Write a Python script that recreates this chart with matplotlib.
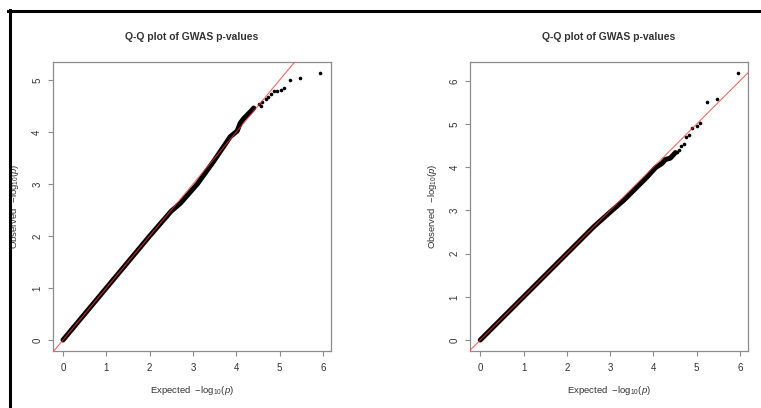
import numpy as np
import matplotlib
matplotlib.use('Agg')
from matplotlib import pyplot as plt
from matplotlib.lines import Line2D

plt.rcParams['font.family'] = ['Liberation Sans', 'DejaVu Sans']
plt.rcParams['mathtext.fontset'] = 'custom'
plt.rcParams['mathtext.rm'] = 'Liberation Sans'
plt.rcParams['mathtext.it'] = 'Liberation Sans:italic'

# left panel: dense body of the Q-Q cloud, then the sparse tail
body_exp_l = [0.0, 0.5, 1.0, 1.5, 2.0, 2.5, 2.71, 3.1, 3.48, 3.86, 4.02, 4.09, 4.17, 4.29, 4.36, 4.40]
body_obs_l = [0.0, 0.5, 1.0, 1.5, 2.0, 2.48, 2.63, 3.0, 3.44, 3.91, 4.02, 4.17, 4.26, 4.36, 4.42, 4.46]
tail_exp_l = [4.52, 4.56, 4.60, 4.68, 4.74, 4.80, 4.88, 4.94, 5.02, 5.10, 5.23, 5.46, 5.94]
tail_obs_l = [4.54, 4.50, 4.58, 4.64, 4.68, 4.73, 4.78, 4.79, 4.81, 4.84, 4.99, 5.03, 5.14]

# right panel
body_exp_r = [0.0, 0.5, 1.0, 1.5, 2.0, 2.62, 3.0, 3.32, 3.86, 4.05, 4.20, 4.28, 4.39, 4.51]
body_obs_r = [0.0, 0.5, 1.0, 1.5, 2.0, 2.62, 2.96, 3.24, 3.78, 3.99, 4.09, 4.18, 4.21, 4.34]
tail_exp_r = [4.55, 4.59, 4.63, 4.70, 4.76, 4.82, 4.90, 5.00, 5.09, 5.24, 5.46, 5.95]
tail_obs_r = [4.36, 4.41, 4.49, 4.55, 4.69, 4.75, 4.91, 4.95, 5.02, 5.50, 5.59, 6.19]

title = 'Q-Q plot of GWAS p-values'
xlab = r'Expected  $-$log$_{10}$($\it{p}$)'
ylab = r'Observed  $-$log$_{10}$($\it{p}$)'

W, H = 761, 408
fig = plt.figure(figsize=(W / 100, H / 100), dpi=100)


def qq_panel(left_px, bx, by, tx, ty):
    ax = fig.add_axes([left_px / W, (H - 350.7) / H, 278 / W, 288.7 / H])
    allx = np.array(bx + tx)
    ally = np.array(by + ty)
    # R style 4% padding
    xr = allx.max() - allx.min()
    yr = ally.max() - ally.min()
    ax.set_xlim(allx.min() - 0.04 * xr, allx.max() + 0.04 * xr)
    ax.set_ylim(ally.min() - 0.04 * yr, ally.max() + 0.04 * yr)

    ax.plot(bx, by, color='black', lw=3.6, solid_capstyle='round',
            solid_joinstyle='round', zorder=2)
    ax.plot(tx, ty, 'o', color='black', ms=2.6, mew=0, zorder=3)
    lim = max(ax.get_xlim()[1], ax.get_ylim()[1])
    lo = min(ax.get_xlim()[0], ax.get_ylim()[0])
    ax.plot([lo, lim], [lo, lim], color='#ff3333', lw=0.8, alpha=0.75, zorder=4)

    ax.set_xticks(range(0, 7))
    nmax = int(np.floor(ally.max()))
    ax.set_yticks(range(0, nmax + 1))
    for s in ax.spines.values():
        s.set_color('#8c8c8c')
        s.set_linewidth(0.9)
    ax.tick_params(colors='#8c8c8c', labelcolor='#333333', labelsize=7,
                   length=3.5, width=0.8)
    ax.tick_params(axis='x', pad=5.5)
    ax.tick_params(axis='y', pad=4)
    for lbl in ax.get_yticklabels():
        lbl.set_rotation(90)
        lbl.set_va('center')

    ax.set_title(title, fontsize=7.5, fontweight='bold', color='#333333', pad=16)
    ax.set_xlabel(xlab, fontsize=6.8, color='#333333', va='center')
    ax.set_ylabel(ylab, fontsize=6.8, color='#333333', va='center')
    ax.xaxis.set_label_coords(0.5, -40 / 288.7)
    ax.yaxis.set_label_coords(-37.7 / 278, 0.5)
    return ax


qq_panel(52.7, body_exp_l, body_obs_l, tail_exp_l, tail_obs_l)
qq_panel(470, body_exp_r, body_obs_r, tail_exp_r, tail_obs_r)

# black screenshot frame on top and left edges
fig.add_artist(Line2D([8 / W, 1.0], [(H - 11) / H, (H - 11) / H], color='black', lw=2.2))
fig.add_artist(Line2D([9.5 / W, 9.5 / W], [0, (H - 10) / H], color='black', lw=2.2))

fig.savefig('out.png', dpi=100)
